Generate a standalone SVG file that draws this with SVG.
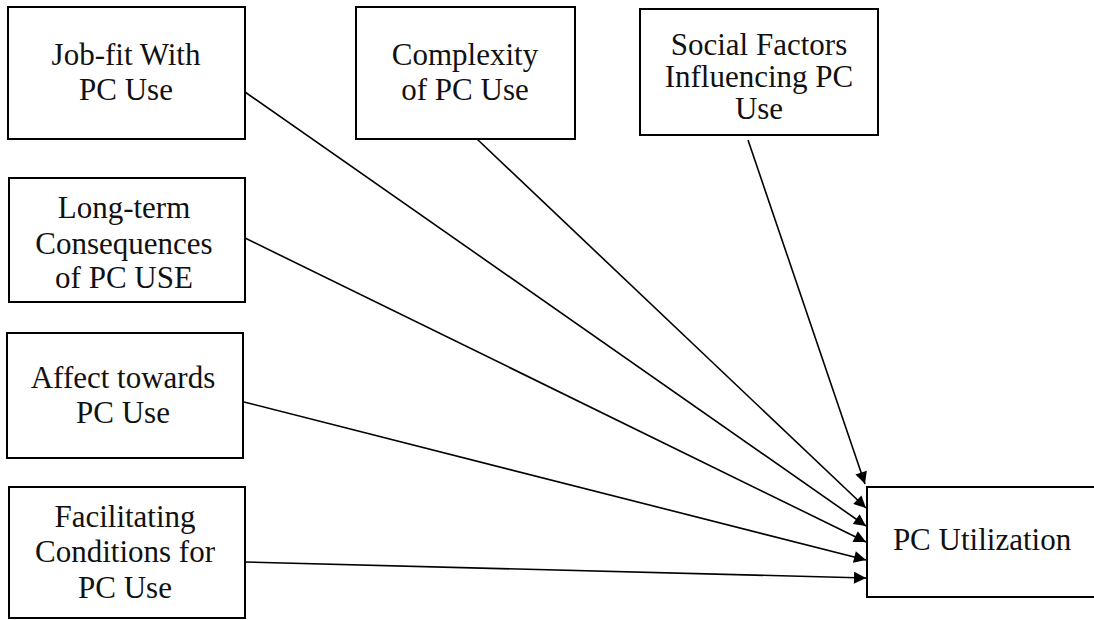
<svg xmlns="http://www.w3.org/2000/svg" width="1094" height="620" viewBox="0 0 1094 620">
  <style>
    .box { fill: #ffffff; stroke: #000000; stroke-width: 2; }
    .label { font-family: "Liberation Serif", "Times New Roman", serif; font-size: 31px; fill: #111111; text-anchor: middle; }
    .edge { stroke: #000000; stroke-width: 1.6; fill: none; marker-end: url(#arrow); }
  </style>
  <defs>
    <marker id="arrow" viewBox="0 0 10 10" refX="10" refY="5" markerUnits="userSpaceOnUse" markerWidth="17" markerHeight="12" orient="auto">
      <path d="M0,0 L10,5 L0,10 Z" fill="#000000"/>
    </marker>
  </defs>
  <rect width="1094" height="620" fill="#ffffff"/>

  <g id="connectors">
    <line class="edge" x1="748" y1="140" x2="865" y2="484"/>
    <line class="edge" x1="477" y1="139" x2="866" y2="508"/>
    <line class="edge" x1="245" y1="92" x2="866" y2="526"/>
    <line class="edge" x1="245" y1="238" x2="866" y2="542"/>
    <line class="edge" x1="244" y1="402" x2="866" y2="560"/>
    <line class="edge" x1="245" y1="562" x2="866" y2="578"/>
  </g>

  <g id="job-fit">
    <rect class="box" x="8" y="7" width="237" height="132"/>
    <text class="label" x="126" y="65">Job-fit With</text>
    <text class="label" x="126" y="100">PC Use</text>
  </g>

  <g id="complexity">
    <rect class="box" x="356" y="7" width="219" height="132"/>
    <text class="label" x="465" y="65">Complexity</text>
    <text class="label" x="465" y="100">of PC Use</text>
  </g>

  <g id="social-factors">
    <rect class="box" x="640" y="9" width="238" height="126"/>
    <text class="label" x="759" y="55">Social Factors</text>
    <text class="label" x="759" y="87">Influencing PC</text>
    <text class="label" x="759" y="119">Use</text>
  </g>

  <g id="long-term">
    <rect class="box" x="9" y="178" width="236" height="124"/>
    <text class="label" x="124" y="218">Long-term</text>
    <text class="label" x="124" y="254">Consequences</text>
    <text class="label" x="124" y="288">of PC USE</text>
  </g>

  <g id="affect">
    <rect class="box" x="7" y="333" width="236" height="125"/>
    <text class="label" x="123" y="388">Affect towards</text>
    <text class="label" x="123" y="423">PC Use</text>
  </g>

  <g id="facilitating">
    <rect class="box" x="9" y="487" width="236" height="131"/>
    <text class="label" x="125" y="527">Facilitating</text>
    <text class="label" x="125" y="562">Conditions for</text>
    <text class="label" x="125" y="598">PC Use</text>
  </g>

  <g id="pc-utilization">
    <rect class="box" x="867" y="487" width="240" height="110"/>
    <text class="label" x="982" y="550">PC Utilization</text>
  </g>
</svg>
